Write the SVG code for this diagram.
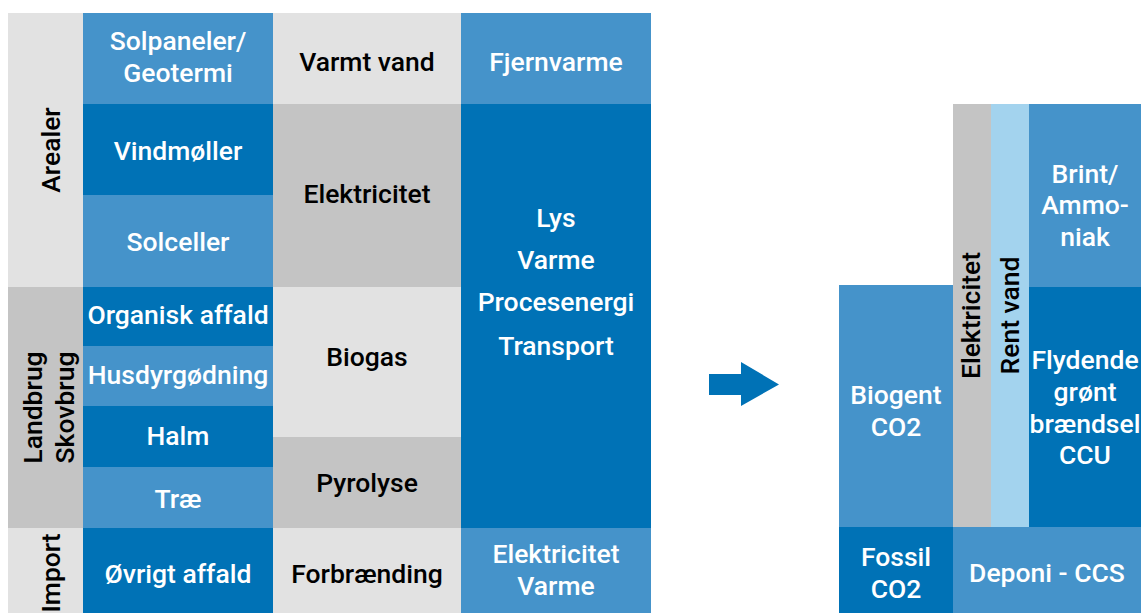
<svg xmlns="http://www.w3.org/2000/svg" width="1141" height="613" viewBox="0 0 1141 613">
<style>
.lb{fill:#4593CA}
.db{fill:#0072B6}
.lg{fill:#E2E2E2}
.mg{fill:#C4C4C4}
.sk{fill:#A3D3EE}
text{font-family:Roboto,"Liberation Sans",sans-serif;font-weight:500;font-size:26.5px;text-anchor:middle}
.w{fill:#FFFFFF}
.k{fill:#000000}
</style>
<rect width="1141" height="613" fill="#FFFFFF"/>
<g id="arealer"><rect class="lg" x="8" y="13" width="75" height="274"/><text class="k" transform="translate(60,150) rotate(-90)">Arealer</text></g>
<g id="landbrug"><rect class="mg" x="8" y="287" width="75" height="241"/><text class="k" transform="translate(42,407.5) rotate(-90)">Landbrug</text><text class="k" transform="translate(74,407.5) rotate(-90)">Skovbrug</text></g>
<g id="import"><rect class="lg" x="8" y="528" width="75" height="85"/><text class="k" transform="translate(60,573) rotate(-90)">Import</text></g>
<g id="solpaneler"><rect class="lb" x="83" y="13" width="190" height="91"/><text class="w" x="178" y="50">Solpaneler/</text><text class="w" x="178" y="82">Geotermi</text></g>
<g id="vindmoller"><rect class="db" x="83" y="104" width="190" height="91"/><text class="w" x="178" y="160">Vindmøller</text></g>
<g id="solceller"><rect class="lb" x="83" y="195" width="190" height="92"/><text class="w" x="178" y="251">Solceller</text></g>
<g id="organisk"><rect class="db" x="83" y="287" width="190" height="59"/><text class="w" x="178" y="324">Organisk affald</text></g>
<g id="husdyr"><rect class="lb" x="83" y="346" width="190" height="60"/><text class="w" x="178" y="384">Husdyrgødning</text></g>
<g id="halm"><rect class="db" x="83" y="406" width="190" height="61"/><text class="w" x="178" y="445">Halm</text></g>
<g id="trae"><rect class="lb" x="83" y="467" width="190" height="61"/><text class="w" x="178" y="508">Træ</text></g>
<g id="ovrigt"><rect class="db" x="83" y="528" width="190" height="85"/><text class="w" x="178" y="583">Øvrigt affald</text></g>
<g id="varmtvand"><rect class="lg" x="273" y="13" width="188" height="91"/><text class="k" x="367" y="71">Varmt vand</text></g>
<g id="elektricitet"><rect class="mg" x="273" y="104" width="188" height="183"/><text class="k" x="367" y="203">Elektricitet</text></g>
<g id="biogas"><rect class="lg" x="273" y="287" width="188" height="150"/><text class="k" x="367" y="366">Biogas</text></g>
<g id="pyrolyse"><rect class="mg" x="273" y="437" width="188" height="91"/><text class="k" x="367" y="492">Pyrolyse</text></g>
<g id="forbraending"><rect class="lg" x="273" y="528" width="188" height="85"/><text class="k" x="367" y="583">Forbrænding</text></g>
<g id="fjernvarme"><rect class="lb" x="461" y="13" width="190" height="91"/><text class="w" x="556" y="71">Fjernvarme</text></g>
<g id="anvendelse"><rect class="db" x="461" y="104" width="190" height="424"/><text class="w" x="556" y="227">Lys</text><text class="w" x="556" y="269">Varme</text><text class="w" x="556" y="311">Procesenergi</text><text class="w" x="556" y="355">Transport</text></g>
<g id="elvarme"><rect class="lb" x="461" y="528" width="190" height="85"/><text class="w" x="556" y="563">Elektricitet</text><text class="w" x="556" y="595">Varme</text></g>
<g id="connectors"><polygon class="db" points="709,374 741,374 741,362 779,384.5 741,406 741,395 709,395"/></g>
<g id="biogent"><rect class="lb" x="839" y="285" width="114" height="242"/><text class="w" x="896" y="404">Biogent</text><text class="w" x="896" y="436">CO2</text></g>
<g id="fossil"><rect class="db" x="839" y="527" width="114" height="86"/><text class="w" x="896" y="566">Fossil</text><text class="w" x="896" y="598">CO2</text></g>
<g id="el2"><rect class="mg" x="953" y="104" width="38" height="423"/><text class="k" transform="translate(980,315.5) rotate(-90)">Elektricitet</text></g>
<g id="rentvand"><rect class="sk" x="991" y="104" width="38" height="423"/><text class="k" transform="translate(1019,315.5) rotate(-90)">Rent vand</text></g>
<g id="brint"><rect class="lb" x="1029" y="104" width="112" height="183"/><text class="w" x="1085" y="183">Brint/</text><text class="w" x="1085" y="214">Ammo-</text><text class="w" x="1085" y="246">niak</text></g>
<g id="flydende"><rect class="db" x="1029" y="287" width="112" height="240"/><text class="w" x="1085" y="369">Flydende</text><text class="w" x="1085" y="401">grønt</text><text class="w" x="1085" y="433">brændsel</text><text class="w" x="1085" y="464">CCU</text></g>
<g id="deponi"><rect class="lb" x="953" y="527" width="188" height="86"/><text class="w" x="1047" y="582">Deponi - CCS</text></g>
</svg>
